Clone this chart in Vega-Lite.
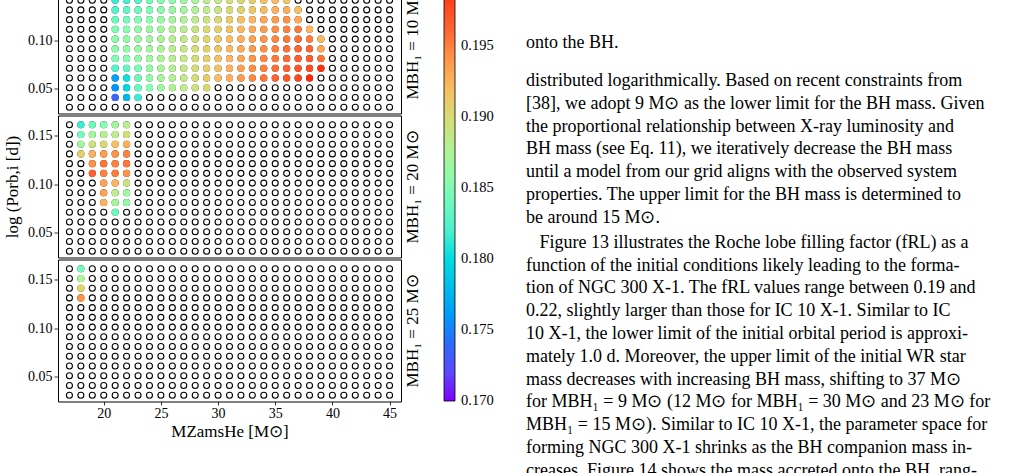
{
"$schema": "https://vega.github.io/schema/vega-lite/v6.json",
"padding": {"left": 3, "top": -29.5, "right": 0, "bottom": 0},
"background": "white",
"config": {
  "font": "Liberation Serif",
  "view": {"stroke": "black", "strokeWidth": 1},
  "axis": {"labelFont": "Liberation Serif", "labelFontSize": 14, "labelColor": "black", "tickColor": "black", "tickSize": 4, "tickWidth": 0.8, "domain": false, "grid": false, "titleFont": "Liberation Serif", "titleFontSize": 17, "titleFontWeight": "normal", "titleColor": "black", "labelPadding": 2},
  "legend": {"labelFont": "Liberation Serif", "labelColor": "black"}
},
"datasets": {
"grid": [
{"m":17,"p":0.031},{"m":18,"p":0.031},{"m":19,"p":0.031},{"m":20,"p":0.031},{"m":21,"p":0.031},{"m":22,"p":0.031},{"m":23,"p":0.031},{"m":24,"p":0.031},{"m":25,"p":0.031},{"m":26,"p":0.031},{"m":27,"p":0.031},{"m":28,"p":0.031},{"m":29,"p":0.031},{"m":30,"p":0.031},{"m":31,"p":0.031},{"m":32,"p":0.031},{"m":33,"p":0.031},{"m":34,"p":0.031},{"m":35,"p":0.031},{"m":36,"p":0.031},{"m":37,"p":0.031},{"m":38,"p":0.031},{"m":39,"p":0.031},{"m":40,"p":0.031},{"m":41,"p":0.031},{"m":42,"p":0.031},{"m":43,"p":0.031},{"m":44,"p":0.031},{"m":45,"p":0.031},
{"m":17,"p":0.041},{"m":18,"p":0.041},{"m":19,"p":0.041},{"m":20,"p":0.041},{"m":21,"p":0.041},{"m":22,"p":0.041},{"m":23,"p":0.041},{"m":24,"p":0.041},{"m":25,"p":0.041},{"m":26,"p":0.041},{"m":27,"p":0.041},{"m":28,"p":0.041},{"m":29,"p":0.041},{"m":30,"p":0.041},{"m":31,"p":0.041},{"m":32,"p":0.041},{"m":33,"p":0.041},{"m":34,"p":0.041},{"m":35,"p":0.041},{"m":36,"p":0.041},{"m":37,"p":0.041},{"m":38,"p":0.041},{"m":39,"p":0.041},{"m":40,"p":0.041},{"m":41,"p":0.041},{"m":42,"p":0.041},{"m":43,"p":0.041},{"m":44,"p":0.041},{"m":45,"p":0.041},
{"m":17,"p":0.051},{"m":18,"p":0.051},{"m":19,"p":0.051},{"m":20,"p":0.051},{"m":21,"p":0.051},{"m":22,"p":0.051},{"m":23,"p":0.051},{"m":24,"p":0.051},{"m":25,"p":0.051},{"m":26,"p":0.051},{"m":27,"p":0.051},{"m":28,"p":0.051},{"m":29,"p":0.051},{"m":30,"p":0.051},{"m":31,"p":0.051},{"m":32,"p":0.051},{"m":33,"p":0.051},{"m":34,"p":0.051},{"m":35,"p":0.051},{"m":36,"p":0.051},{"m":37,"p":0.051},{"m":38,"p":0.051},{"m":39,"p":0.051},{"m":40,"p":0.051},{"m":41,"p":0.051},{"m":42,"p":0.051},{"m":43,"p":0.051},{"m":44,"p":0.051},{"m":45,"p":0.051},
{"m":17,"p":0.061},{"m":18,"p":0.061},{"m":19,"p":0.061},{"m":20,"p":0.061},{"m":21,"p":0.061},{"m":22,"p":0.061},{"m":23,"p":0.061},{"m":24,"p":0.061},{"m":25,"p":0.061},{"m":26,"p":0.061},{"m":27,"p":0.061},{"m":28,"p":0.061},{"m":29,"p":0.061},{"m":30,"p":0.061},{"m":31,"p":0.061},{"m":32,"p":0.061},{"m":33,"p":0.061},{"m":34,"p":0.061},{"m":35,"p":0.061},{"m":36,"p":0.061},{"m":37,"p":0.061},{"m":38,"p":0.061},{"m":39,"p":0.061},{"m":40,"p":0.061},{"m":41,"p":0.061},{"m":42,"p":0.061},{"m":43,"p":0.061},{"m":44,"p":0.061},{"m":45,"p":0.061},
{"m":17,"p":0.071},{"m":18,"p":0.071},{"m":19,"p":0.071},{"m":20,"p":0.071},{"m":21,"p":0.071},{"m":22,"p":0.071},{"m":23,"p":0.071},{"m":24,"p":0.071},{"m":25,"p":0.071},{"m":26,"p":0.071},{"m":27,"p":0.071},{"m":28,"p":0.071},{"m":29,"p":0.071},{"m":30,"p":0.071},{"m":31,"p":0.071},{"m":32,"p":0.071},{"m":33,"p":0.071},{"m":34,"p":0.071},{"m":35,"p":0.071},{"m":36,"p":0.071},{"m":37,"p":0.071},{"m":38,"p":0.071},{"m":39,"p":0.071},{"m":40,"p":0.071},{"m":41,"p":0.071},{"m":42,"p":0.071},{"m":43,"p":0.071},{"m":44,"p":0.071},{"m":45,"p":0.071},
{"m":17,"p":0.081},{"m":18,"p":0.081},{"m":19,"p":0.081},{"m":20,"p":0.081},{"m":21,"p":0.081},{"m":22,"p":0.081},{"m":23,"p":0.081},{"m":24,"p":0.081},{"m":25,"p":0.081},{"m":26,"p":0.081},{"m":27,"p":0.081},{"m":28,"p":0.081},{"m":29,"p":0.081},{"m":30,"p":0.081},{"m":31,"p":0.081},{"m":32,"p":0.081},{"m":33,"p":0.081},{"m":34,"p":0.081},{"m":35,"p":0.081},{"m":36,"p":0.081},{"m":37,"p":0.081},{"m":38,"p":0.081},{"m":39,"p":0.081},{"m":40,"p":0.081},{"m":41,"p":0.081},{"m":42,"p":0.081},{"m":43,"p":0.081},{"m":44,"p":0.081},{"m":45,"p":0.081},
{"m":17,"p":0.091},{"m":18,"p":0.091},{"m":19,"p":0.091},{"m":20,"p":0.091},{"m":21,"p":0.091},{"m":22,"p":0.091},{"m":23,"p":0.091},{"m":24,"p":0.091},{"m":25,"p":0.091},{"m":26,"p":0.091},{"m":27,"p":0.091},{"m":28,"p":0.091},{"m":29,"p":0.091},{"m":30,"p":0.091},{"m":31,"p":0.091},{"m":32,"p":0.091},{"m":33,"p":0.091},{"m":34,"p":0.091},{"m":35,"p":0.091},{"m":36,"p":0.091},{"m":37,"p":0.091},{"m":38,"p":0.091},{"m":39,"p":0.091},{"m":40,"p":0.091},{"m":41,"p":0.091},{"m":42,"p":0.091},{"m":43,"p":0.091},{"m":44,"p":0.091},{"m":45,"p":0.091},
{"m":17,"p":0.101},{"m":18,"p":0.101},{"m":19,"p":0.101},{"m":20,"p":0.101},{"m":21,"p":0.101},{"m":22,"p":0.101},{"m":23,"p":0.101},{"m":24,"p":0.101},{"m":25,"p":0.101},{"m":26,"p":0.101},{"m":27,"p":0.101},{"m":28,"p":0.101},{"m":29,"p":0.101},{"m":30,"p":0.101},{"m":31,"p":0.101},{"m":32,"p":0.101},{"m":33,"p":0.101},{"m":34,"p":0.101},{"m":35,"p":0.101},{"m":36,"p":0.101},{"m":37,"p":0.101},{"m":38,"p":0.101},{"m":39,"p":0.101},{"m":40,"p":0.101},{"m":41,"p":0.101},{"m":42,"p":0.101},{"m":43,"p":0.101},{"m":44,"p":0.101},{"m":45,"p":0.101},
{"m":17,"p":0.111},{"m":18,"p":0.111},{"m":19,"p":0.111},{"m":20,"p":0.111},{"m":21,"p":0.111},{"m":22,"p":0.111},{"m":23,"p":0.111},{"m":24,"p":0.111},{"m":25,"p":0.111},{"m":26,"p":0.111},{"m":27,"p":0.111},{"m":28,"p":0.111},{"m":29,"p":0.111},{"m":30,"p":0.111},{"m":31,"p":0.111},{"m":32,"p":0.111},{"m":33,"p":0.111},{"m":34,"p":0.111},{"m":35,"p":0.111},{"m":36,"p":0.111},{"m":37,"p":0.111},{"m":38,"p":0.111},{"m":39,"p":0.111},{"m":40,"p":0.111},{"m":41,"p":0.111},{"m":42,"p":0.111},{"m":43,"p":0.111},{"m":44,"p":0.111},{"m":45,"p":0.111},
{"m":17,"p":0.121},{"m":18,"p":0.121},{"m":19,"p":0.121},{"m":20,"p":0.121},{"m":21,"p":0.121},{"m":22,"p":0.121},{"m":23,"p":0.121},{"m":24,"p":0.121},{"m":25,"p":0.121},{"m":26,"p":0.121},{"m":27,"p":0.121},{"m":28,"p":0.121},{"m":29,"p":0.121},{"m":30,"p":0.121},{"m":31,"p":0.121},{"m":32,"p":0.121},{"m":33,"p":0.121},{"m":34,"p":0.121},{"m":35,"p":0.121},{"m":36,"p":0.121},{"m":37,"p":0.121},{"m":38,"p":0.121},{"m":39,"p":0.121},{"m":40,"p":0.121},{"m":41,"p":0.121},{"m":42,"p":0.121},{"m":43,"p":0.121},{"m":44,"p":0.121},{"m":45,"p":0.121},
{"m":17,"p":0.131},{"m":18,"p":0.131},{"m":19,"p":0.131},{"m":20,"p":0.131},{"m":21,"p":0.131},{"m":22,"p":0.131},{"m":23,"p":0.131},{"m":24,"p":0.131},{"m":25,"p":0.131},{"m":26,"p":0.131},{"m":27,"p":0.131},{"m":28,"p":0.131},{"m":29,"p":0.131},{"m":30,"p":0.131},{"m":31,"p":0.131},{"m":32,"p":0.131},{"m":33,"p":0.131},{"m":34,"p":0.131},{"m":35,"p":0.131},{"m":36,"p":0.131},{"m":37,"p":0.131},{"m":38,"p":0.131},{"m":39,"p":0.131},{"m":40,"p":0.131},{"m":41,"p":0.131},{"m":42,"p":0.131},{"m":43,"p":0.131},{"m":44,"p":0.131},{"m":45,"p":0.131},
{"m":17,"p":0.141},{"m":18,"p":0.141},{"m":19,"p":0.141},{"m":20,"p":0.141},{"m":21,"p":0.141},{"m":22,"p":0.141},{"m":23,"p":0.141},{"m":24,"p":0.141},{"m":25,"p":0.141},{"m":26,"p":0.141},{"m":27,"p":0.141},{"m":28,"p":0.141},{"m":29,"p":0.141},{"m":30,"p":0.141},{"m":31,"p":0.141},{"m":32,"p":0.141},{"m":33,"p":0.141},{"m":34,"p":0.141},{"m":35,"p":0.141},{"m":36,"p":0.141},{"m":37,"p":0.141},{"m":38,"p":0.141},{"m":39,"p":0.141},{"m":40,"p":0.141},{"m":41,"p":0.141},{"m":42,"p":0.141},{"m":43,"p":0.141},{"m":44,"p":0.141},{"m":45,"p":0.141},
{"m":17,"p":0.151},{"m":18,"p":0.151},{"m":19,"p":0.151},{"m":20,"p":0.151},{"m":21,"p":0.151},{"m":22,"p":0.151},{"m":23,"p":0.151},{"m":24,"p":0.151},{"m":25,"p":0.151},{"m":26,"p":0.151},{"m":27,"p":0.151},{"m":28,"p":0.151},{"m":29,"p":0.151},{"m":30,"p":0.151},{"m":31,"p":0.151},{"m":32,"p":0.151},{"m":33,"p":0.151},{"m":34,"p":0.151},{"m":35,"p":0.151},{"m":36,"p":0.151},{"m":37,"p":0.151},{"m":38,"p":0.151},{"m":39,"p":0.151},{"m":40,"p":0.151},{"m":41,"p":0.151},{"m":42,"p":0.151},{"m":43,"p":0.151},{"m":44,"p":0.151},{"m":45,"p":0.151},
{"m":17,"p":0.161},{"m":18,"p":0.161},{"m":19,"p":0.161},{"m":20,"p":0.161},{"m":21,"p":0.161},{"m":22,"p":0.161},{"m":23,"p":0.161},{"m":24,"p":0.161},{"m":25,"p":0.161},{"m":26,"p":0.161},{"m":27,"p":0.161},{"m":28,"p":0.161},{"m":29,"p":0.161},{"m":30,"p":0.161},{"m":31,"p":0.161},{"m":32,"p":0.161},{"m":33,"p":0.161},{"m":34,"p":0.161},{"m":35,"p":0.161},{"m":36,"p":0.161},{"m":37,"p":0.161},{"m":38,"p":0.161},{"m":39,"p":0.161},{"m":40,"p":0.161},{"m":41,"p":0.161},{"m":42,"p":0.161},{"m":43,"p":0.161},{"m":44,"p":0.161},{"m":45,"p":0.161}
],
"fit": [
{"b":10,"m":21,"p":0.141,"f":0.1812},{"b":10,"m":22,"p":0.141,"f":0.1818},{"b":10,"m":23,"p":0.141,"f":0.1828},{"b":10,"m":24,"p":0.141,"f":0.1842},{"b":10,"m":25,"p":0.141,"f":0.185},{"b":10,"m":26,"p":0.141,"f":0.1857},{"b":10,"m":27,"p":0.141,"f":0.1865},{"b":10,"m":28,"p":0.141,"f":0.1873},{"b":10,"m":29,"p":0.141,"f":0.1882},{"b":10,"m":30,"p":0.141,"f":0.189},{"b":10,"m":31,"p":0.141,"f":0.1897},{"b":10,"m":32,"p":0.141,"f":0.1903},{"b":10,"m":33,"p":0.141,"f":0.191},{"b":10,"m":34,"p":0.141,"f":0.1918},{"b":10,"m":35,"p":0.141,"f":0.1922},{"b":10,"m":36,"p":0.141,"f":0.1915},
{"b":10,"m":21,"p":0.131,"f":0.1825},{"b":10,"m":22,"p":0.131,"f":0.1832},{"b":10,"m":23,"p":0.131,"f":0.184},{"b":10,"m":24,"p":0.131,"f":0.1847},{"b":10,"m":25,"p":0.131,"f":0.1854},{"b":10,"m":26,"p":0.131,"f":0.1862},{"b":10,"m":27,"p":0.131,"f":0.187},{"b":10,"m":28,"p":0.131,"f":0.1878},{"b":10,"m":29,"p":0.131,"f":0.1886},{"b":10,"m":30,"p":0.131,"f":0.1893},{"b":10,"m":31,"p":0.131,"f":0.19},{"b":10,"m":32,"p":0.131,"f":0.1907},{"b":10,"m":33,"p":0.131,"f":0.1914},{"b":10,"m":34,"p":0.131,"f":0.1921},{"b":10,"m":35,"p":0.131,"f":0.1927},{"b":10,"m":36,"p":0.131,"f":0.193},{"b":10,"m":37,"p":0.131,"f":0.1918},
{"b":10,"m":21,"p":0.121,"f":0.1838},{"b":10,"m":22,"p":0.121,"f":0.1844},{"b":10,"m":23,"p":0.121,"f":0.185},{"b":10,"m":24,"p":0.121,"f":0.1856},{"b":10,"m":25,"p":0.121,"f":0.1863},{"b":10,"m":26,"p":0.121,"f":0.187},{"b":10,"m":27,"p":0.121,"f":0.1878},{"b":10,"m":28,"p":0.121,"f":0.1886},{"b":10,"m":29,"p":0.121,"f":0.1894},{"b":10,"m":30,"p":0.121,"f":0.1902},{"b":10,"m":31,"p":0.121,"f":0.191},{"b":10,"m":32,"p":0.121,"f":0.1918},{"b":10,"m":33,"p":0.121,"f":0.1925},{"b":10,"m":34,"p":0.121,"f":0.1932},{"b":10,"m":35,"p":0.121,"f":0.1938},{"b":10,"m":36,"p":0.121,"f":0.1943},{"b":10,"m":37,"p":0.121,"f":0.1932},
{"b":10,"m":21,"p":0.111,"f":0.1848},{"b":10,"m":22,"p":0.111,"f":0.1853},{"b":10,"m":23,"p":0.111,"f":0.1858},{"b":10,"m":24,"p":0.111,"f":0.1864},{"b":10,"m":25,"p":0.111,"f":0.187},{"b":10,"m":26,"p":0.111,"f":0.1877},{"b":10,"m":27,"p":0.111,"f":0.1885},{"b":10,"m":28,"p":0.111,"f":0.1893},{"b":10,"m":29,"p":0.111,"f":0.19},{"b":10,"m":30,"p":0.111,"f":0.1908},{"b":10,"m":31,"p":0.111,"f":0.1916},{"b":10,"m":32,"p":0.111,"f":0.1924},{"b":10,"m":33,"p":0.111,"f":0.1931},{"b":10,"m":34,"p":0.111,"f":0.1938},{"b":10,"m":35,"p":0.111,"f":0.1944},{"b":10,"m":36,"p":0.111,"f":0.195},{"b":10,"m":37,"p":0.111,"f":0.1953},{"b":10,"m":38,"p":0.111,"f":0.1925},
{"b":10,"m":21,"p":0.101,"f":0.1856},{"b":10,"m":22,"p":0.101,"f":0.1859},{"b":10,"m":23,"p":0.101,"f":0.1863},{"b":10,"m":24,"p":0.101,"f":0.1868},{"b":10,"m":25,"p":0.101,"f":0.1875},{"b":10,"m":26,"p":0.101,"f":0.1882},{"b":10,"m":27,"p":0.101,"f":0.1889},{"b":10,"m":28,"p":0.101,"f":0.1897},{"b":10,"m":29,"p":0.101,"f":0.1904},{"b":10,"m":30,"p":0.101,"f":0.1912},{"b":10,"m":31,"p":0.101,"f":0.192},{"b":10,"m":32,"p":0.101,"f":0.1928},{"b":10,"m":33,"p":0.101,"f":0.1935},{"b":10,"m":34,"p":0.101,"f":0.1942},{"b":10,"m":35,"p":0.101,"f":0.1948},{"b":10,"m":36,"p":0.101,"f":0.1954},{"b":10,"m":37,"p":0.101,"f":0.1958},{"b":10,"m":38,"p":0.101,"f":0.1952},{"b":10,"m":39,"p":0.101,"f":0.1922},
{"b":10,"m":21,"p":0.091,"f":0.1856},{"b":10,"m":22,"p":0.091,"f":0.1859},{"b":10,"m":23,"p":0.091,"f":0.1863},{"b":10,"m":24,"p":0.091,"f":0.1868},{"b":10,"m":25,"p":0.091,"f":0.1875},{"b":10,"m":26,"p":0.091,"f":0.1883},{"b":10,"m":27,"p":0.091,"f":0.1891},{"b":10,"m":28,"p":0.091,"f":0.1899},{"b":10,"m":29,"p":0.091,"f":0.1907},{"b":10,"m":30,"p":0.091,"f":0.1915},{"b":10,"m":31,"p":0.091,"f":0.1923},{"b":10,"m":32,"p":0.091,"f":0.1931},{"b":10,"m":33,"p":0.091,"f":0.1938},{"b":10,"m":34,"p":0.091,"f":0.1945},{"b":10,"m":35,"p":0.091,"f":0.1951},{"b":10,"m":36,"p":0.091,"f":0.1957},{"b":10,"m":37,"p":0.091,"f":0.1961},{"b":10,"m":38,"p":0.091,"f":0.1963},{"b":10,"m":39,"p":0.091,"f":0.1932},
{"b":10,"m":21,"p":0.081,"f":0.1848},{"b":10,"m":22,"p":0.081,"f":0.1853},{"b":10,"m":23,"p":0.081,"f":0.1859},{"b":10,"m":24,"p":0.081,"f":0.1866},{"b":10,"m":25,"p":0.081,"f":0.1874},{"b":10,"m":26,"p":0.081,"f":0.1882},{"b":10,"m":27,"p":0.081,"f":0.1891},{"b":10,"m":28,"p":0.081,"f":0.19},{"b":10,"m":29,"p":0.081,"f":0.1908},{"b":10,"m":30,"p":0.081,"f":0.1917},{"b":10,"m":31,"p":0.081,"f":0.1925},{"b":10,"m":32,"p":0.081,"f":0.1933},{"b":10,"m":33,"p":0.081,"f":0.1941},{"b":10,"m":34,"p":0.081,"f":0.1948},{"b":10,"m":35,"p":0.081,"f":0.1954},{"b":10,"m":36,"p":0.081,"f":0.196},{"b":10,"m":37,"p":0.081,"f":0.1965},{"b":10,"m":38,"p":0.081,"f":0.1968},{"b":10,"m":39,"p":0.081,"f":0.1957},
{"b":10,"m":21,"p":0.071,"f":0.1825},{"b":10,"m":22,"p":0.071,"f":0.1833},{"b":10,"m":23,"p":0.071,"f":0.1847},{"b":10,"m":24,"p":0.071,"f":0.186},{"b":10,"m":25,"p":0.071,"f":0.1871},{"b":10,"m":26,"p":0.071,"f":0.1881},{"b":10,"m":27,"p":0.071,"f":0.1891},{"b":10,"m":28,"p":0.071,"f":0.19},{"b":10,"m":29,"p":0.071,"f":0.1909},{"b":10,"m":30,"p":0.071,"f":0.1918},{"b":10,"m":31,"p":0.071,"f":0.1927},{"b":10,"m":32,"p":0.071,"f":0.1936},{"b":10,"m":33,"p":0.071,"f":0.1944},{"b":10,"m":34,"p":0.071,"f":0.1951},{"b":10,"m":35,"p":0.071,"f":0.1958},{"b":10,"m":36,"p":0.071,"f":0.1964},{"b":10,"m":37,"p":0.071,"f":0.197},{"b":10,"m":38,"p":0.071,"f":0.1976},{"b":10,"m":39,"p":0.071,"f":0.199},
{"b":10,"m":21,"p":0.061,"f":0.1765},{"b":10,"m":22,"p":0.061,"f":0.1805},{"b":10,"m":23,"p":0.061,"f":0.184},{"b":10,"m":24,"p":0.061,"f":0.1856},{"b":10,"m":25,"p":0.061,"f":0.1869},{"b":10,"m":26,"p":0.061,"f":0.188},{"b":10,"m":27,"p":0.061,"f":0.189},{"b":10,"m":28,"p":0.061,"f":0.19},{"b":10,"m":29,"p":0.061,"f":0.191},{"b":10,"m":30,"p":0.061,"f":0.192},{"b":10,"m":31,"p":0.061,"f":0.1929},{"b":10,"m":32,"p":0.061,"f":0.1938},{"b":10,"m":33,"p":0.061,"f":0.1947},{"b":10,"m":34,"p":0.061,"f":0.1955},{"b":10,"m":35,"p":0.061,"f":0.1963},{"b":10,"m":36,"p":0.061,"f":0.1971},{"b":10,"m":37,"p":0.061,"f":0.1979},{"b":10,"m":38,"p":0.061,"f":0.1993},
{"b":10,"m":21,"p":0.051,"f":0.1758},{"b":10,"m":22,"p":0.051,"f":0.18},{"b":10,"m":23,"p":0.051,"f":0.1836},{"b":10,"m":24,"p":0.051,"f":0.1853},{"b":10,"m":25,"p":0.051,"f":0.1865},{"b":10,"m":26,"p":0.051,"f":0.1876},{"b":10,"m":27,"p":0.051,"f":0.1886},{"b":10,"m":28,"p":0.051,"f":0.1895},{"b":10,"m":29,"p":0.051,"f":0.1903},
{"b":10,"m":21,"p":0.041,"f":0.1738},{"b":10,"m":22,"p":0.041,"f":0.1778},{"b":10,"m":23,"p":0.041,"f":0.1812},
{"b":20,"m":18,"p":0.161,"f":0.1812},{"b":20,"m":19,"p":0.161,"f":0.184},{"b":20,"m":20,"p":0.161,"f":0.1852},{"b":20,"m":21,"p":0.161,"f":0.1868},{"b":20,"m":22,"p":0.161,"f":0.1885},
{"b":20,"m":18,"p":0.151,"f":0.1843},{"b":20,"m":19,"p":0.151,"f":0.187},{"b":20,"m":20,"p":0.151,"f":0.188},{"b":20,"m":21,"p":0.151,"f":0.1888},{"b":20,"m":22,"p":0.151,"f":0.19},
{"b":20,"m":18,"p":0.141,"f":0.187},{"b":20,"m":19,"p":0.141,"f":0.1895},{"b":20,"m":20,"p":0.141,"f":0.1902},{"b":20,"m":21,"p":0.141,"f":0.1918},{"b":20,"m":22,"p":0.141,"f":0.1928},
{"b":20,"m":18,"p":0.131,"f":0.1908},{"b":20,"m":19,"p":0.131,"f":0.1927},{"b":20,"m":20,"p":0.131,"f":0.1937},{"b":20,"m":21,"p":0.131,"f":0.1942},{"b":20,"m":22,"p":0.131,"f":0.195},
{"b":20,"m":19,"p":0.121,"f":0.1942},{"b":20,"m":20,"p":0.121,"f":0.1955},{"b":20,"m":21,"p":0.121,"f":0.195},{"b":20,"m":22,"p":0.121,"f":0.1955},
{"b":20,"m":19,"p":0.111,"f":0.1965},{"b":20,"m":20,"p":0.111,"f":0.195},{"b":20,"m":21,"p":0.111,"f":0.1952},{"b":20,"m":22,"p":0.111,"f":0.1942},
{"b":20,"m":20,"p":0.101,"f":0.1935},{"b":20,"m":21,"p":0.101,"f":0.1925},{"b":20,"m":22,"p":0.101,"f":0.1895},
{"b":20,"m":20,"p":0.091,"f":0.1935},{"b":20,"m":21,"p":0.091,"f":0.1885},{"b":20,"m":22,"p":0.091,"f":0.1865},
{"b":20,"m":20,"p":0.081,"f":0.1927},{"b":20,"m":21,"p":0.081,"f":0.187},{"b":20,"m":22,"p":0.081,"f":0.1858},
{"b":20,"m":21,"p":0.071,"f":0.1838},
{"b":25,"m":18,"p":0.161,"f":0.1843},{"b":25,"m":18,"p":0.151,"f":0.1875},{"b":25,"m":18,"p":0.141,"f":0.1905},{"b":25,"m":18,"p":0.131,"f":0.1942}
],
"txt": [
{"line":-1.65,"t":"onto the BH."},
{"line":0,"t":"distributed logarithmically. Based on recent constraints from"},
{"line":1,"t":"[38], we adopt 9 M⊙ as the lower limit for the BH mass. Given"},
{"line":2,"t":"the proportional relationship between X-ray luminosity and"},
{"line":3,"t":"BH mass (see Eq. 11), we iteratively decrease the BH mass"},
{"line":4,"t":"until a model from our grid aligns with the observed system"},
{"line":5,"t":"properties. The upper limit for the BH mass is determined to"},
{"line":6,"t":"be around 15 M⊙."},
{"line":7.1,"t":"\u200b\u00a0\u00a0\u00a0Figure 13 illustrates the Roche lobe filling factor (fRL) as a"},
{"line":8.1,"t":"function of the initial conditions likely leading to the forma-"},
{"line":9.1,"t":"tion of NGC 300 X-1. The fRL values range between 0.19 and"},
{"line":10.1,"t":"0.22, slightly larger than those for IC 10 X-1. Similar to IC"},
{"line":11.1,"t":"10 X-1, the lower limit of the initial orbital period is approxi-"},
{"line":12.1,"t":"mately 1.0 d. Moreover, the upper limit of the initial WR star"},
{"line":13.1,"t":"mass decreases with increasing BH mass, shifting to 37 M⊙"},
{"line":14.1,"t":"for MBH₁ = 9 M⊙ (12 M⊙ for MBH₁ = 30 M⊙ and 23 M⊙ for"},
{"line":15.1,"t":"MBH₁ = 15 M⊙). Similar to IC 10 X-1, the parameter space for"},
{"line":16.1,"t":"forming NGC 300 X-1 shrinks as the BH companion mass in-"},
{"line":17.1,"t":"creases. Figure 14 shows the mass accreted onto the BH, rang-"}
]
},
"hconcat": [
{
"vconcat": [
{
"width": 343, "height": 142,
"layer": [
{"data": {"name": "grid"}, "mark": {"type": "point", "shape": "circle", "filled": false, "stroke": "black", "strokeWidth": 1.1, "size": 36, "opacity": 1},
 "encoding": {"x": {"field": "m", "type": "quantitative", "scale": {"domain": [16, 46], "nice": false, "zero": false}, "axis": null},
  "y": {"field": "p", "type": "quantitative", "scale": {"domain": [0.0245, 0.1705], "nice": false, "zero": false}, "axis": {"values": [0.05, 0.1, 0.15], "format": ".2f", "title": null}}}},
{"data": {"name": "fit"}, "transform": [{"filter": "datum.b == 10"}], "mark": {"type": "circle", "size": 52, "opacity": 1},
 "encoding": {"x": {"field": "m", "type": "quantitative"},
  "y": {"field": "p", "type": "quantitative", "axis": {"orient": "right", "labels": false, "ticks": false, "title": "MBH₁ = 10 M⊙", "titleAngle": 270, "titleBaseline": "top", "titlePadding": 3}},
  "color": {"field": "f", "type": "quantitative", "scale": {"domain": [0.17, 0.17375, 0.1775, 0.18125, 0.185, 0.18875, 0.1925, 0.19625, 0.2], "range": ["#8000ff", "#4062fa", "#00b4ec", "#40ecd4", "#80ffb4", "#bfec8e", "#ffb462", "#ff6232", "#ff0000"]},
   "legend": {"orient": "none", "legendX": 386, "legendY": 3.5, "direction": "vertical", "gradientLength": 426, "gradientThickness": 11, "title": null, "values": [0.17002, 0.175, 0.18, 0.185, 0.19, 0.195], "format": ".3f", "labelFontSize": 14.5, "labelOffset": 6, "padding": 0, "gradientStrokeColor": "black", "gradientStrokeWidth": 0.8}}}}
],
"resolve": {"axis": {"y": "independent"}}
},
{
"width": 343, "height": 142,
"layer": [
{"data": {"name": "grid"}, "mark": {"type": "point", "shape": "circle", "filled": false, "stroke": "black", "strokeWidth": 1.1, "size": 36, "opacity": 1},
 "encoding": {"x": {"field": "m", "type": "quantitative", "scale": {"domain": [16, 46], "nice": false, "zero": false}, "axis": null},
  "y": {"field": "p", "type": "quantitative", "scale": {"domain": [0.0245, 0.1705], "nice": false, "zero": false}, "axis": {"values": [0.05, 0.1, 0.15], "format": ".2f", "title": "log (Porb,i [d])", "titlePadding": 6}}}},
{"data": {"name": "fit"}, "transform": [{"filter": "datum.b == 20"}], "mark": {"type": "circle", "size": 52, "opacity": 1},
 "encoding": {"x": {"field": "m", "type": "quantitative"},
  "y": {"field": "p", "type": "quantitative", "axis": {"orient": "right", "labels": false, "ticks": false, "title": "MBH₁ = 20 M⊙", "titleAngle": 270, "titleBaseline": "top", "titlePadding": 3}},
  "color": {"field": "f", "type": "quantitative"}}}
],
"resolve": {"axis": {"y": "independent"}}
},
{
"width": 343, "height": 142,
"layer": [
{"data": {"name": "grid"}, "mark": {"type": "point", "shape": "circle", "filled": false, "stroke": "black", "strokeWidth": 1.1, "size": 36, "opacity": 1},
 "encoding": {"x": {"field": "m", "type": "quantitative", "scale": {"domain": [16, 46], "nice": false, "zero": false}, "axis": {"values": [20, 25, 30, 35, 40, 45], "title": "MZamsHe [M⊙]", "tickSize": 3.5, "labelPadding": 1, "titlePadding": 3}},
  "y": {"field": "p", "type": "quantitative", "scale": {"domain": [0.0245, 0.1705], "nice": false, "zero": false}, "axis": {"values": [0.05, 0.1, 0.15], "format": ".2f", "title": null}}}},
{"data": {"name": "fit"}, "transform": [{"filter": "datum.b == 25"}], "mark": {"type": "circle", "size": 52, "opacity": 1},
 "encoding": {"x": {"field": "m", "type": "quantitative"},
  "y": {"field": "p", "type": "quantitative", "axis": {"orient": "right", "labels": false, "ticks": false, "title": "MBH₁ = 25 M⊙", "titleAngle": 270, "titleBaseline": "top", "titlePadding": 3}},
  "color": {"field": "f", "type": "quantitative"}}}
],
"resolve": {"axis": {"y": "independent"}}
}
],
"spacing": 0
},
{
"width": 497, "height": 499,
"view": {"stroke": null},
"data": {"name": "txt"},
"mark": {"type": "text", "align": "left", "baseline": "middle", "fontSize": 18, "font": "Liberation Serif", "color": "black"},
"encoding": {
 "x": {"datum": 0, "type": "quantitative", "scale": {"domain": [0, 1]}, "axis": null},
 "y": {"field": "line", "type": "quantitative", "scale": {"domain": [-4.803, 17.083], "reverse": true, "nice": false, "zero": false}, "axis": null},
 "text": {"field": "t"}
}
}
],
"spacing": 105
}
